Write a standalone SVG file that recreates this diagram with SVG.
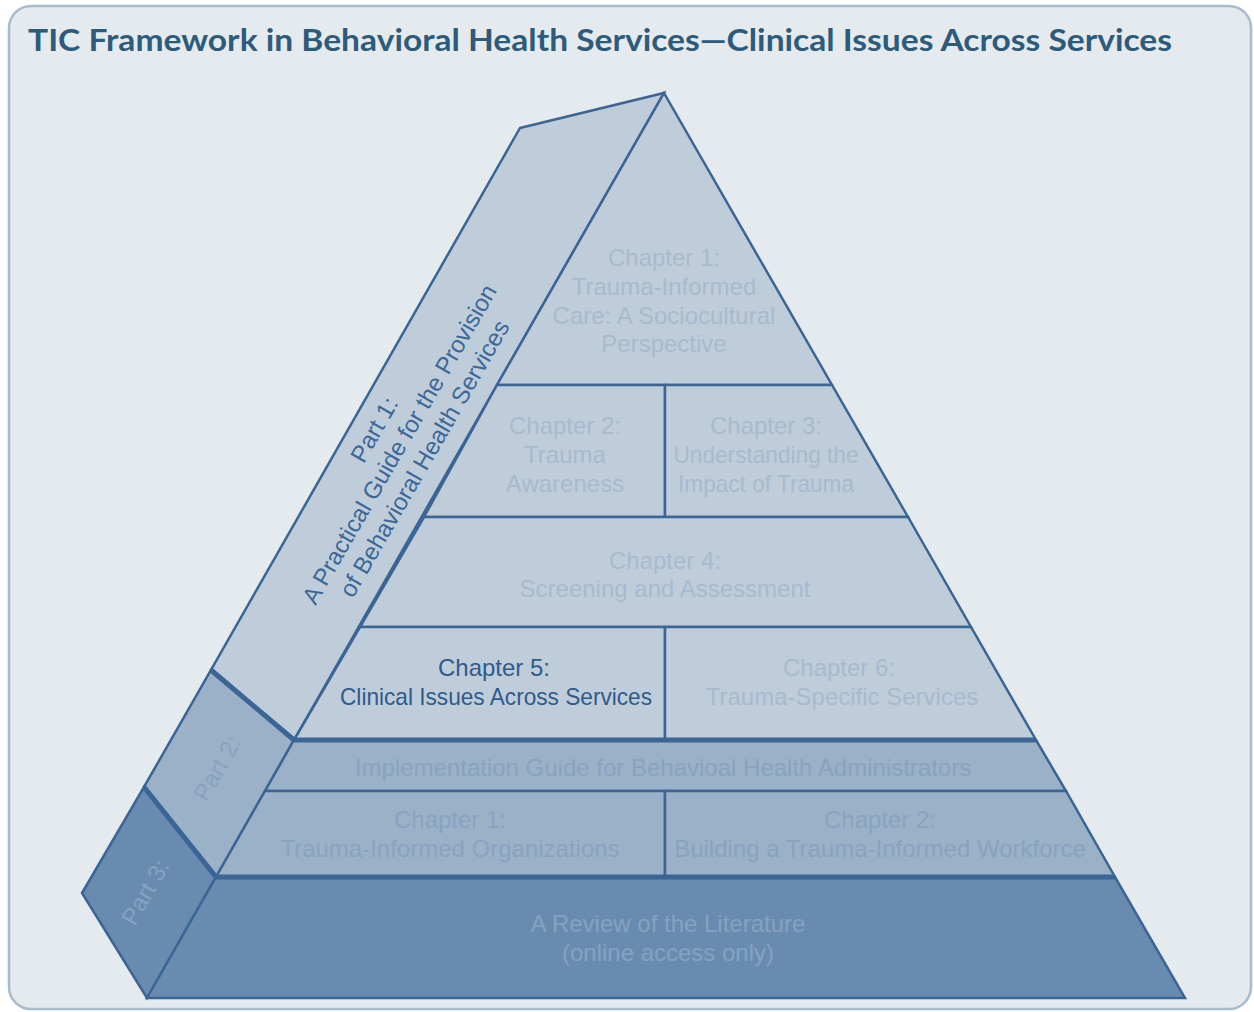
<svg xmlns="http://www.w3.org/2000/svg" width="1254" height="1012" viewBox="0 0 1254 1012">
  <style>
    .cell { stroke: #3a6594; stroke-width: 2.5; stroke-linejoin: miter; }
    .f1 { fill: #bfcddb; }
    .f2 { fill: #9bb1c8; }
    .f3 { fill: #6a8bb0; }
    .t { font-family: "Liberation Sans", Arial, sans-serif; font-size: 24px; text-anchor: middle; }
    .c1 { fill: #a7bace; }
    .c2 { fill: #88a3c1; }
    .c3 { fill: #86a2c3; }
    .dark { fill: #2f5b8c; }
    .sep { stroke: #3a6594; stroke-width: 5; stroke-linecap: butt; fill: none; }
  </style>
  <rect x="9" y="6" width="1242" height="1003" rx="22" ry="22" fill="#e4eaed" stroke="#a9bccd" stroke-width="2.5"/>
  <text x="28" y="51" font-family="Lato, 'Open Sans', sans-serif" font-weight="700" font-size="30" fill="#2d5b7b" textLength="1144" lengthAdjust="spacingAndGlyphs">TIC Framework in Behavioral Health Services—Clinical Issues Across Services</text>

  <g id="part1">
    <polygon class="cell f1" points="520,128 664,93 294,740 211,670"/>
    <g transform="translate(399,444) rotate(-60)">
      <text class="t" fill="#3b6897" x="0" y="-20.4">Part 1:</text>
      <text class="t" fill="#3b6897" x="0" y="8.6">A Practical Guide for the Provision</text>
      <text class="t" fill="#3b6897" x="0" y="37.6">of Behavioral Health Services</text>
    </g>
  </g>
  <g id="ch1">
    <polygon class="cell f1" points="664,93 832,385 497,385"/>
    <text class="t c1" x="664" y="265.6">Chapter 1:</text>
    <text class="t c1" x="664" y="294.6">Trauma-Informed</text>
    <text class="t c1" x="664" y="323.6">Care: A Sociocultural</text>
    <text class="t c1" x="664" y="351.6">Perspective</text>
  </g>
  <g id="ch2">
    <polygon class="cell f1" points="497,385 665,385 665,517 424,517"/>
    <text class="t c1" x="565" y="433.6">Chapter 2:</text>
    <text class="t c1" x="565" y="462.6">Trauma</text>
    <text class="t c1" x="565" y="491.6">Awareness</text>
  </g>
  <g id="ch3">
    <polygon class="cell f1" points="665,385 832,385 908,517 665,517"/>
    <text class="t c1" x="766" y="433.6">Chapter 3:</text>
    <text class="t c1" x="766" y="462.6" textLength="185" lengthAdjust="spacingAndGlyphs">Understanding the</text>
    <text class="t c1" x="766" y="491.6" textLength="176" lengthAdjust="spacingAndGlyphs">Impact of Trauma</text>
  </g>
  <g id="ch4">
    <polygon class="cell f1" points="424,517 908,517 971,627 360,627"/>
    <text class="t c1" x="665" y="568.6">Chapter 4:</text>
    <text class="t c1" x="665" y="596.6">Screening and Assessment</text>
  </g>
  <g id="ch5">
    <polygon class="cell f1" points="360,627 665,627 665,740 294,740"/>
    <text class="t dark" x="494" y="675.6">Chapter 5:</text>
    <text class="t dark" x="496" y="704.6" textLength="312" lengthAdjust="spacingAndGlyphs">Clinical Issues Across Services</text>
  </g>
  <g id="ch6">
    <polygon class="cell f1" points="665,627 971,627 1036,740 665,740"/>
    <text class="t c1" x="839" y="675.6">Chapter 6:</text>
    <text class="t c1" x="842" y="704.6">Trauma-Specific Services</text>
  </g>

  <g id="part2">
    <polygon class="cell f2" points="211,670 294,740 216,877 144,787"/>
    <text class="t c2" transform="translate(217,768) rotate(-60)" x="0" y="8.6">Part 2:</text>
  </g>
  <g id="impl">
    <polygon class="cell f2" points="294,740 1036,740 1066,791 265,791"/>
    <text class="t c2" x="663" y="775.6">Implementation Guide for Behavioal Health Administrators</text>
  </g>
  <g id="p2ch1">
    <polygon class="cell f2" points="265,791 665,791 665,877 216,877"/>
    <text class="t c2" x="450" y="827.6">Chapter 1:</text>
    <text class="t c2" x="450" y="856.6">Trauma-Informed Organizations</text>
  </g>
  <g id="p2ch2">
    <polygon class="cell f2" points="665,791 1066,791 1115,877 665,877"/>
    <text class="t c2" x="880" y="827.6">Chapter 2:</text>
    <text class="t c2" x="880" y="856.6">Building a Trauma-Informed Workforce</text>
  </g>

  <g id="part3">
    <polygon class="cell f3" points="144,787 216,877 147,998 82,893"/>
    <text class="t c3" transform="translate(145,892) rotate(-60)" x="0" y="8.6">Part 3:</text>
  </g>
  <g id="lit">
    <polygon class="cell f3" points="216,877 1115,877 1185,998 147,998"/>
    <text class="t c3" x="668" y="931.6">A Review of the Literature</text>
    <text class="t c3" x="668" y="960.6">(online access only)</text>
  </g>

  <g id="connectors">
    <line class="sep" x1="211" y1="670" x2="294" y2="740"/>
    <line class="sep" x1="144" y1="787" x2="216" y2="877"/>
    <line class="sep" x1="294" y1="740" x2="1036" y2="740"/>
    <line class="sep" x1="216" y1="877" x2="1115" y2="877"/>
  </g>
</svg>
